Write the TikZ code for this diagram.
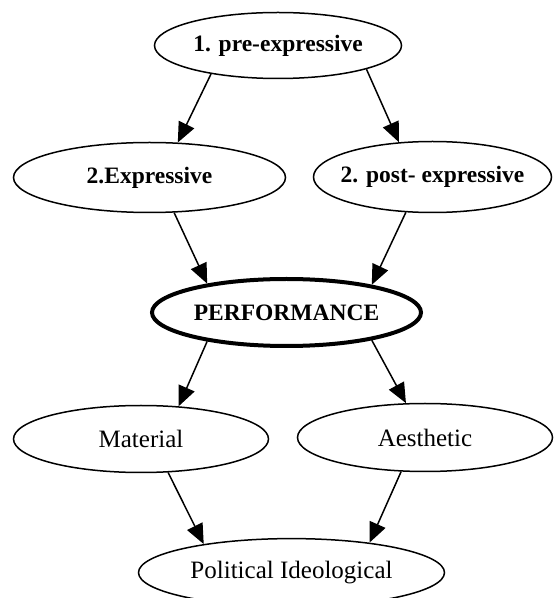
\documentclass[tikz,border=0pt]{standalone}
\usepackage{fontspec}
\setmainfont{Liberation Serif}
\usetikzlibrary{shapes.geometric,arrows.meta}

\begin{document}
\begin{tikzpicture}[x=1pt,y=1pt,
  oval/.style={ellipse,draw,line width=1.5pt,inner sep=0pt,font=\fontsize{25}{29}\selectfont},
  boldoval/.style={oval,font=\fontsize{23.5}{28}\selectfont\bfseries},
  flow/.style={-{Triangle[length=20pt,width=17pt]},line width=1.5pt}]
\useasboundingbox (0,0) rectangle (555,598);
% top level
\node[boldoval,minimum width=247,minimum height=66] (pre) at (278,552.5) {1. pre-expressive};
\node[boldoval,minimum width=272,minimum height=70] (expr) at (149.5,420.5) {2.Expressive};
\node[boldoval,inner xsep=-8pt,minimum width=238,minimum height=71] (post) at (432.5,421) {2. post- expressive};
% centre
\node[boldoval,line width=4pt,minimum width=269,minimum height=67] (perf) at (286.5,285.5) {PERFORMANCE};
% lower level
\node[oval,minimum width=255,minimum height=67] (mat) at (141,159) {Material};
\node[oval,minimum width=255,minimum height=68] (aes) at (425,160.5) {Aesthetic};
\node[oval,minimum width=306,minimum height=68] (pol) at (291.5,25.4) {Political Ideological};
% arrows
\draw[flow] (pre.203) -- (expr.51);
\draw[flow] (pre.345) -- (post.134);
\draw[flow] (expr.305) -- (perf.160);
\draw[flow] (post.233) -- (perf.18);
\draw[flow] (perf.200) -- (mat.41);
\draw[flow] (perf.342) -- (aes.119);
\draw[flow] (mat.309) -- (pol.162);
\draw[flow] (aes.235) -- (pol.21);
\end{tikzpicture}
\end{document}
